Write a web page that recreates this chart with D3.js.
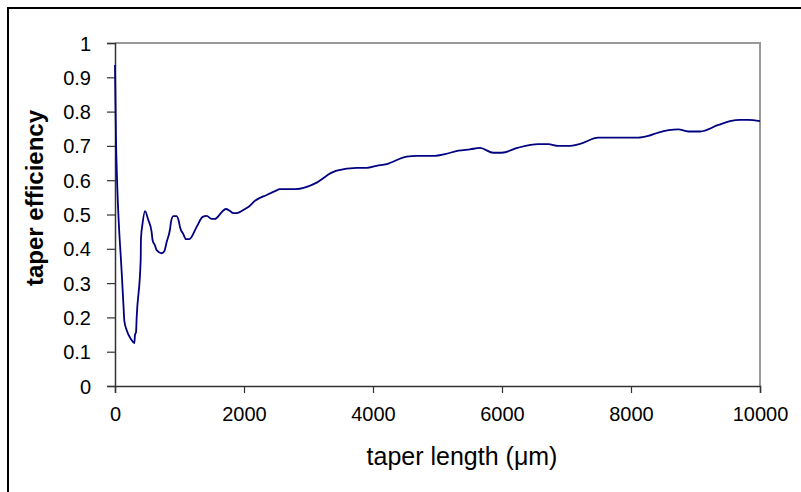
<!DOCTYPE html>
<html><head><meta charset="utf-8">
<script src="https://cdn.jsdelivr.net/npm/d3@7"></script>
<style>body{margin:0;background:#fff}svg{display:block}</style>
</head><body>
<svg id="c" width="801" height="492"></svg>
<script>
const taperLength = [0,15,104,130,145,180,257,300,310,326,336,398,403,428,465,516,567,583,620,646,723,765,801,853,868,904,955,992,1008,1059,1101,1152,1266,1359,1421,1498,1550,1628,1669,1720,1783,1835,1886,2016,2067,2171,2351,2480,2558,2791,3127,3359,3437,3747,3902,4057,4212,4522,4677,4961,5116,5322,5504,5659,5866,5995,6253,6563,6718,6873,7028,7209,7493,8113,8268,8423,8733,8888,9070,9354,9535,9690,9819,10000];
const taperEfficiency = [0.936,0.72,0.33,0.24,0.19,0.163,0.134,0.125,0.149,0.157,0.2,0.367,0.43,0.475,0.51,0.484,0.45,0.425,0.41,0.396,0.387,0.393,0.42,0.457,0.478,0.495,0.495,0.478,0.463,0.443,0.428,0.428,0.464,0.493,0.496,0.487,0.487,0.501,0.51,0.516,0.51,0.504,0.504,0.516,0.522,0.54,0.557,0.568,0.574,0.574,0.593,0.622,0.628,0.636,0.636,0.642,0.647,0.669,0.671,0.671,0.676,0.686,0.69,0.694,0.68,0.68,0.695,0.705,0.705,0.7,0.7,0.706,0.724,0.724,0.729,0.739,0.748,0.742,0.742,0.761,0.772,0.776,0.776,0.772];
const xTicks = [0,2000,4000,6000,8000,10000];
const yTicks = [0,0.1,0.2,0.3,0.4,0.5,0.6,0.7,0.8,0.9,1];
const xTitle = "taper length (\u03bcm)";
const yTitle = "taper efficiency";

const svg = d3.select("#c");
const L=115, R=760, T=43, B=386;
const x = d3.scaleLinear().domain([0,10000]).range([L,R]);
const y = d3.scaleLinear().domain([0,1]).range([B,T]);
const font = "'Liberation Sans', Arial, sans-serif";

// outer frame
svg.append("rect").attr("x",8).attr("y",8).attr("width",820).attr("height",520)
  .attr("fill","none").attr("stroke","#000").attr("stroke-width",2);

// plot border top/right
svg.append("path").attr("d",`M${L},${T}H${R}V${B}`).attr("fill","none")
  .attr("stroke","#999").attr("stroke-width",2);

// axes
const gx = svg.append("g").attr("transform",`translate(0,${B})`)
  .call(d3.axisBottom(x).tickValues(xTicks).tickSize(7).tickFormat(d3.format("d")));
const gy = svg.append("g").attr("transform",`translate(${L},0)`)
  .call(d3.axisLeft(y).tickValues(yTicks).tickSize(8).tickFormat(d=>d3.format("")(+d.toFixed(1))));
[gx,gy].forEach(g=>{
  g.select(".domain").attr("stroke","#333").attr("stroke-width",1.5);
  g.selectAll(".tick line").attr("stroke","#333").attr("stroke-width",1.2);
  g.selectAll("text").attr("font-family",font).attr("font-size",20).attr("fill","#000");
});
gx.selectAll("text").attr("y",21).attr("dy","0.71em");
gy.selectAll("text").attr("x",-24).attr("dy","0.35em");

// line
const pts = taperLength.map((v,i)=>[v,taperEfficiency[i]]);
svg.append("path").datum(pts)
  .attr("d", d3.line().x(d=>x(d[0])).y(d=>y(d[1])).curve(d3.curveMonotoneX))
  .attr("fill","none").attr("stroke","#000080").attr("stroke-width",1.8);

// titles
svg.append("text").attr("x",462).attr("y",465).attr("text-anchor","middle")
  .attr("font-family",font).attr("font-size",25).text(xTitle);
svg.append("text").attr("transform","translate(43,198) rotate(-90)").attr("text-anchor","middle")
  .attr("font-family",font).attr("font-size",24).attr("font-weight","bold").text(yTitle);
</script>
</body></html>
